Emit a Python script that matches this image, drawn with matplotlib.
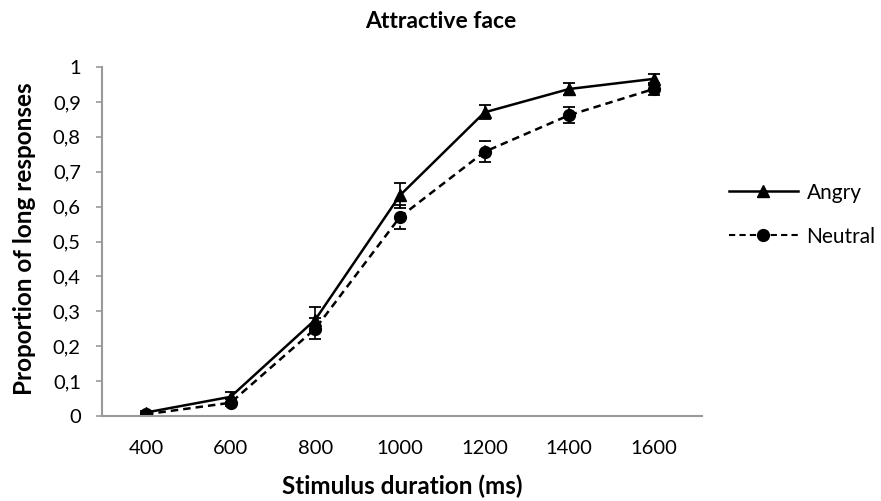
import numpy as np
import matplotlib.pyplot as plt
from matplotlib.lines import Line2D

plt.rcParams['font.family'] = ['Lato', 'DejaVu Sans']

durations = ['400', '600', '800', '1000', '1200', '1400', '1600']
angry = [0.010, 0.055, 0.276, 0.632, 0.870, 0.937, 0.966]
angry_err = [0.004, 0.015, 0.035, 0.035, 0.020, 0.016, 0.015]
neutral = [0.005, 0.038, 0.250, 0.570, 0.757, 0.862, 0.937]
neutral_err = [0.004, 0.010, 0.030, 0.035, 0.030, 0.022, 0.016]
yticks = np.arange(0, 1.01, 0.1)
ytick_labels = ['0', '0,1', '0,2', '0,3', '0,4', '0,5', '0,6', '0,7', '0,8', '0,9', '1']

fig = plt.figure(figsize=(8.81, 5.01), dpi=100)
ax = fig.add_axes([102/881, 85/501, 600/881, 349/501])

x = np.arange(len(durations))
ax.errorbar(x, angry, yerr=angry_err, color='black', linewidth=1.8,
            marker='^', markersize=8.5, capsize=4.3, elinewidth=1.2, capthick=1.3)
eb = ax.errorbar(x, neutral, yerr=neutral_err, color='black', linewidth=1.8,
                 linestyle=(0, (3, 2)), marker='o', markersize=8.5, capsize=4.3,
                 elinewidth=1.2, capthick=1.3)
eb[-1][0].set_linestyle((0, (2, 2)))

ax.set_xlim(-0.52, 6.57)
ax.set_ylim(0, 1)
ax.set_xticks(x)
ax.set_xticklabels(durations)
ax.set_yticks(yticks)
ax.set_yticklabels(ytick_labels)
ax.tick_params(axis='x', length=0, labelsize=14.5, pad=17)
ax.tick_params(axis='y', length=4.3, width=1.2, color='#999999', labelsize=14.5, pad=11)
for s in ['top', 'right']:
    ax.spines[s].set_visible(False)
for s in ['left', 'bottom']:
    ax.spines[s].set_color('#999999')
    ax.spines[s].set_linewidth(1.5)

fig.text(402/881, 1 - 486/501, 'Stimulus duration (ms)', fontsize=17.5,
         fontweight='bold', ha='center', va='center')
fig.text(25/881, 1 - 239/501, 'Proportion of long responses', fontsize=17.5,
         fontweight='bold', ha='center', va='center', rotation=90)
fig.text(441/881, 1 - 22/501, 'Attractive face', fontsize=16.5,
         fontweight='bold', ha='center', va='center')

handles = [Line2D([], [], color='black', linewidth=1.8, marker='^', markersize=8.5),
           Line2D([], [], color='black', linewidth=1.5, linestyle=(0, (3, 2)),
                  marker='o', markersize=8.5)]
ax.legend(handles, ['Angry', 'Neutral'], loc='center left',
          bbox_to_anchor=(1.013, 0.577), frameon=False, fontsize=15,
          handlelength=3.35, handletextpad=0.39, labelspacing=1.15)

fig.savefig('out.png', dpi=100)
